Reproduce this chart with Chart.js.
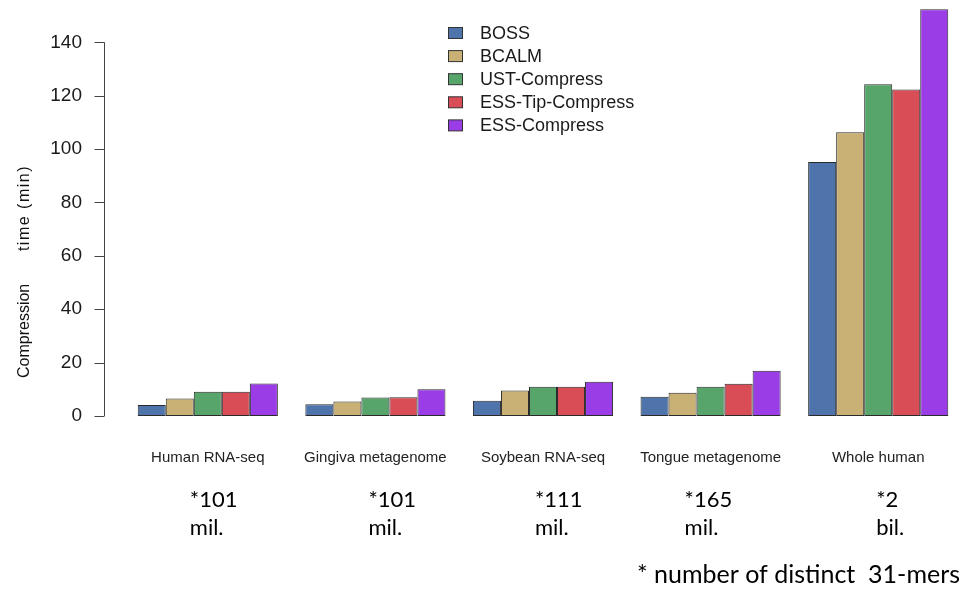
<!DOCTYPE html>
<html>
<head>
<meta charset="utf-8">
<script src="https://cdn.jsdelivr.net/npm/chart.js@4/dist/chart.umd.min.js"></script>
<style>
  html, body { margin: 0; padding: 0; background: #fff; }
  #wrap { position: relative; width: 963px; height: 590px; }
</style>
</head>
<body>
<div id="wrap"><canvas id="c" width="963" height="590"></canvas></div>
<script>
// Compression time (minutes) per dataset and tool
const datasets = ['Human RNA-seq', 'Gingiva metagenome', 'Soybean RNA-seq', 'Tongue metagenome', 'Whole human'];
const kmerCounts = ['*101', '*101', '*111', '*165', '*2'];
const kmerUnits = ['mil.', 'mil.', 'mil.', 'mil.', 'bil.'];
const tools = ['BOSS', 'BCALM', 'UST-Compress', 'ESS-Tip-Compress', 'ESS-Compress'];
const boss = [4.1, 4.4, 5.7, 7.2, 95.2];
const bcalm = [6.6, 5.4, 9.6, 8.7, 106.3];
const ustCompress = [9.1, 6.9, 11, 11, 124.3];
const essTipCompress = [9.1, 7, 11, 12.1, 122.3];
const essCompress = [12.2, 10, 12.8, 17, 152.4];
const yTicks = [0, 20, 40, 60, 80, 100, 120, 140];
const footnote = '* number of distinct  31-mers';

const colors = ['#4E74AB', '#C9B175', '#58A56B', '#D94D57', '#9B3DE7'];
const seriesValues = [boss, bcalm, ustCompress, essTipCompress, essCompress];

// R-style decorations: detached y axis, vertical legend, notes under the groups
const decor = {
  id: 'decor',
  afterDraw(chart) {
    const ctx = chart.ctx;
    const y = chart.scales.y;
    const x = chart.scales.x;
    const area = chart.chartArea;
    ctx.save();

    // y axis line with outward tick marks
    const ax = area.left - 19.5;
    ctx.strokeStyle = '#444';
    ctx.lineWidth = 1;
    ctx.beginPath();
    ctx.moveTo(ax, y.getPixelForValue(yTicks[0]));
    ctx.lineTo(ax, y.getPixelForValue(yTicks[yTicks.length - 1]));
    yTicks.forEach(v => {
      const py = Math.round(y.getPixelForValue(v)) + 0.5;
      ctx.moveTo(ax - 10, py);
      ctx.lineTo(ax, py);
    });
    ctx.stroke();

    // y axis title (two words, widely spaced)
    ctx.save();
    ctx.translate(29, 378);
    ctx.rotate(-Math.PI / 2);
    ctx.fillStyle = '#111';
    ctx.font = '16px "Liberation Sans", Arial, sans-serif';
    ctx.textBaseline = 'alphabetic';
    ctx.textAlign = 'left';
    ctx.fillText('Compression', 0, 0);
    ctx.letterSpacing = '1.5px';
    ctx.textAlign = 'right';
    ctx.fillText('time (min)', 213, 0);
    ctx.restore();

    // legend
    ctx.font = '18px "Liberation Sans", Arial, sans-serif';
    ctx.textBaseline = 'middle';
    ctx.textAlign = 'left';
    chart.data.datasets.forEach((ds, i) => {
      const cy = 33 + i * 23.1;
      ctx.fillStyle = ds.backgroundColor;
      ctx.fillRect(448, cy - 5.5, 14, 11);
      ctx.strokeStyle = '#333';
      ctx.strokeRect(448.5, cy - 5.5, 14, 11);
      ctx.fillStyle = '#1a1a1a';
      ctx.fillText(ds.label, 480, cy + 1);
    });

    // k-mer count notes under each group
    const offsets = [-18, -7, -8, -26, -2];
    ctx.font = '22px Lato, "Open Sans", sans-serif';
    ctx.fillStyle = '#000';
    ctx.textBaseline = 'alphabetic';
    datasets.forEach((d, i) => {
      const px = x.getPixelForValue(i) + offsets[i];
      ctx.fillText(kmerCounts[i], px, 507);
      ctx.fillText(kmerUnits[i], px, 535);
    });
    ctx.font = '25px Lato, "Open Sans", sans-serif';
    ctx.fillText(footnote, 637, 583);
    ctx.restore();
  }
};

new Chart(document.getElementById('c'), {
  type: 'bar',
  data: {
    labels: datasets,
    datasets: tools.map((t, i) => ({
      label: t,
      data: seriesValues[i],
      backgroundColor: colors[i],
      borderColor: '#2a2a2a',
      borderWidth: 1,
      borderSkipped: false,
      categoryPercentage: 0.836,
      barPercentage: 1
    }))
  },
  options: {
    responsive: false,
    animation: false,
    layout: { padding: { top: 5, right: 1, left: 0, bottom: 0 } },
    plugins: {
      legend: { display: false },
      tooltip: { enabled: false }
    },
    scales: {
      x: {
        grid: { display: false, drawTicks: false },
        border: { display: false },
        ticks: {
          padding: 33,
          color: '#222',
          maxRotation: 0,
          autoSkip: false,
          font: { family: '"Liberation Sans", Arial, sans-serif', size: 15 }
        },
        afterFit(scale) { scale.height = 174; }
      },
      y: {
        min: 0,
        max: 154,
        grid: { display: false, drawTicks: false },
        border: { display: false },
        afterBuildTicks(scale) { scale.ticks = yTicks.map(v => ({ value: v })); },
        ticks: {
          padding: 42,
          color: '#1a1a1a',
          font: { family: '"Liberation Sans", Arial, sans-serif', size: 19 }
        },
        afterFit(scale) {
          scale.width = 124;
          scale.paddingTop = 0;
          scale.paddingBottom = 0;
        }
      }
    }
  },
  plugins: [decor]
});
</script>
</body>
</html>
